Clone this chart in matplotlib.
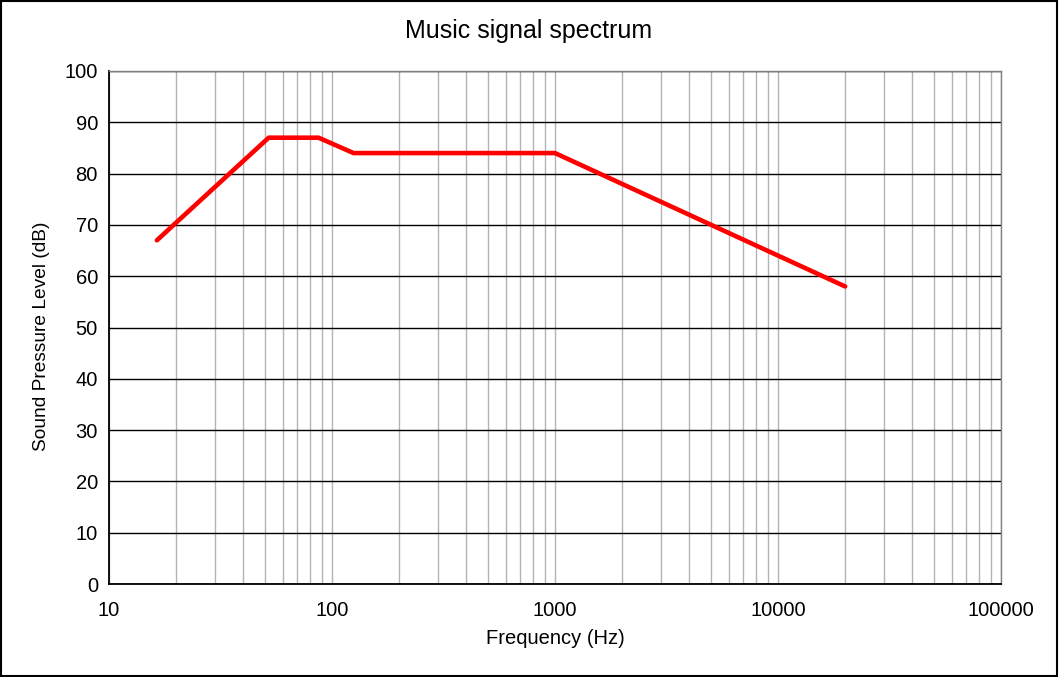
import matplotlib
matplotlib.use("Agg")
import matplotlib.pyplot as plt
from matplotlib.ticker import FixedLocator, FixedFormatter, LogLocator, NullFormatter
import numpy as np

freq_hz = [16.4, 52, 87, 125, 1000, 20000]
spl_db = [67, 87, 87, 84, 84, 58]
x_ticks = [10, 100, 1000, 10000, 100000]
x_tick_labels = ["10", "100", "1000", "10000", "100000"]
y_ticks = [0, 10, 20, 30, 40, 50, 60, 70, 80, 90, 100]

plt.rcParams['font.family'] = ['Liberation Sans', 'DejaVu Sans']

fig = plt.figure(figsize=(10.59, 6.77), dpi=100)
fig.patch.set_facecolor('white')
ax = fig.add_axes([109/1059, 1 - 584/677, (1001-109)/1059, (584-71)/677])

ax.plot(freq_hz, spl_db, color='#ff0000', linewidth=3.3, solid_joinstyle='round',
        solid_capstyle='round', zorder=3)

ax.set_xscale('log')
ax.set_xlim(10, 100000)
ax.set_ylim(0, 100)
ax.xaxis.set_major_locator(FixedLocator(x_ticks))
ax.xaxis.set_major_formatter(FixedFormatter(x_tick_labels))
ax.xaxis.set_minor_locator(LogLocator(base=10, subs=np.arange(2, 10)))
ax.xaxis.set_minor_formatter(NullFormatter())
ax.set_yticks(y_ticks)

ax.grid(True, which='major', axis='y', color='black', linewidth=1.0, zorder=1)
ax.grid(True, which='both', axis='x', color='#b3b3b3', linewidth=1.0, zorder=1)
ax.set_axisbelow(True)

ax.tick_params(axis='both', which='both', length=0, labelsize=14.5, colors='black')
ax.tick_params(axis='x', pad=12)
ax.tick_params(axis='y', pad=8)

for s in ['top', 'right']:
    ax.spines[s].set_color('#808080')
    ax.spines[s].set_linewidth(1.0)
for s in ['left', 'bottom']:
    ax.spines[s].set_color('black')
    ax.spines[s].set_linewidth(1.3)

ax.set_xlabel('Frequency (Hz)', fontsize=14.5, labelpad=7)
ax.set_ylabel('Sound Pressure Level (dB)', fontsize=13.8)
ax.yaxis.set_label_coords(-(109 - 50) / 892, (584 - 336) / 513)
fig.text(529/1059, 1 - 31/677, 'Music signal spectrum', ha='center', va='center', fontsize=18)

border = plt.Rectangle((0.0005, 0.0008), 0.998, 0.998, transform=fig.transFigure,
                       fill=False, edgecolor='black', linewidth=1.5)
fig.patches.append(border)

fig.savefig('out.png', dpi=100)
